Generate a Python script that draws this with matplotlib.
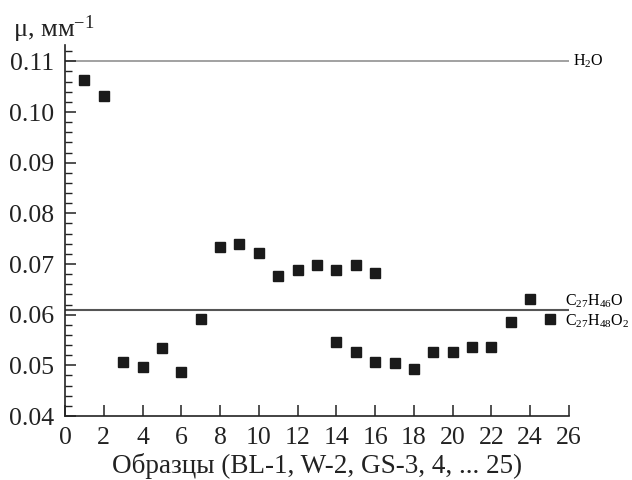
import numpy as np
import matplotlib
matplotlib.use("Agg")
import matplotlib.pyplot as plt
from matplotlib.ticker import MultipleLocator

plt.rcParams['font.family'] = ['Liberation Serif', 'DejaVu Serif']
plt.rcParams['mathtext.fontset'] = 'custom'
plt.rcParams['mathtext.rm'] = 'Liberation Serif'
plt.rcParams['mathtext.it'] = 'Liberation Serif:italic'

# Samples and attenuation coefficients (mm^-1)
samples = [1, 2, 3, 4, 5, 6, 7, 8, 9, 10, 11, 12, 13, 14, 15, 16,
           14, 15, 16, 17, 18, 19, 20, 21, 22, 23, 24, 25]
mu = [0.1063, 0.1032, 0.0506, 0.0496, 0.0534, 0.0486, 0.0591, 0.0733,
      0.0739, 0.0721, 0.0676, 0.0688, 0.0699, 0.0689, 0.0699, 0.0683,
      0.0547, 0.0526, 0.0506, 0.0504, 0.0493, 0.0526, 0.0526, 0.0537,
      0.0537, 0.0585, 0.0630, 0.0591]

# Reference levels
mu_h2o = 0.110
mu_chol = 0.0609

fig = plt.figure(figsize=(6.32, 4.8), dpi=100)
ax = fig.add_axes([0.1028, 0.1333, 0.7975, 0.7727])

ax.axhline(mu_h2o, color='#9a9a9a', lw=1.3, zorder=1)
ax.axhline(mu_chol, color='#555555', lw=1.5, zorder=1)
ax.plot(samples, mu, 's', color='#1a1a1a', markersize=6.5, zorder=3)

ax.text(26.2, mu_h2o, 'H$_2$O', fontsize=11.5, va='center', ha='left', clip_on=False)
ax.text(25.8, 0.0627, 'C$_{27}$H$_{46}$O', fontsize=11.5, va='center', ha='left', clip_on=False)
ax.text(25.8, 0.0586, 'C$_{27}$H$_{48}$O$_2$', fontsize=11.5, va='center', ha='left', clip_on=False)

ax.set_xlim(0, 26)
ax.set_ylim(0.04, 0.1132)
ax.set_xticks(np.arange(0, 27, 2))
ax.set_yticks([0.04, 0.05, 0.06, 0.07, 0.08, 0.09, 0.10, 0.11])
ax.set_yticklabels(['0.04', '0.05', '0.06', '0.07', '0.08', '0.09', '0.10', '0.11'])
ax.yaxis.set_minor_locator(MultipleLocator(0.002))

ax.spines['top'].set_visible(False)
ax.spines['right'].set_visible(False)
for s in ['left', 'bottom']:
    ax.spines[s].set_linewidth(1.2)
    ax.spines[s].set_color('#222222')

ax.tick_params(axis='both', which='major', direction='in', length=8, width=1.1,
               labelsize=18.5, colors='#222222', pad=8)
ax.tick_params(axis='y', which='minor', direction='in', length=5, width=1.0, colors='#222222')

ax.set_xlabel('Образцы (BL-1, W-2, GS-3, 4, ... 25)', fontsize=19.5, color='#222222', labelpad=3)
fig.text(0.02, 0.94, 'μ, мм$^{-1}$', fontsize=19, va='center', ha='left', color='#222222')

fig.savefig('out.png', dpi=100)
